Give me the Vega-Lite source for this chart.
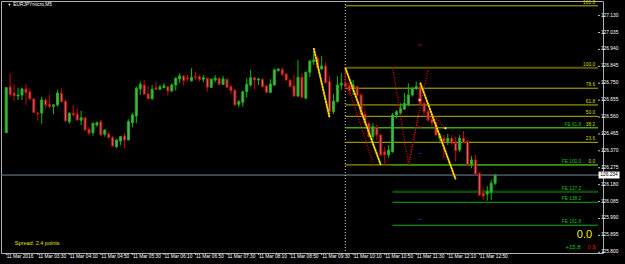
{
 "$schema": "https://vega.github.io/schema/vega-lite/v6.json",
 "width": 602, "height": 252,
 "autosize": "none",
 "padding": {"left": 1, "top": 1, "right": 22, "bottom": 11},
 "background": "#000000",
 "config": {"view": {"stroke": "#b0b0b0", "strokeWidth": 1}, "font": "Liberation Sans"},
 "datasets": {
  "candles": [
   {"i":0,"o":126.472,"h":126.725,"l":126.472,"c":126.725},
   {"i":1,"o":126.729,"h":126.806,"l":126.673,"c":126.688},
   {"i":2,"o":126.694,"h":126.744,"l":126.650,"c":126.680},
   {"i":3,"o":126.678,"h":126.725,"l":126.656,"c":126.684},
   {"i":4,"o":126.684,"h":126.725,"l":126.656,"c":126.718},
   {"i":5,"o":126.718,"h":126.744,"l":126.628,"c":126.697},
   {"i":6,"o":126.702,"h":126.722,"l":126.656,"c":126.662},
   {"i":7,"o":126.662,"h":126.666,"l":126.585,"c":126.585},
   {"i":8,"o":126.582,"h":126.590,"l":126.539,"c":126.577},
   {"i":9,"o":126.582,"h":126.674,"l":126.522,"c":126.656},
   {"i":10,"o":126.656,"h":126.666,"l":126.609,"c":126.628},
   {"i":11,"o":126.632,"h":126.684,"l":126.609,"c":126.620},
   {"i":12,"o":126.620,"h":126.632,"l":126.576,"c":126.628},
   {"i":13,"o":126.628,"h":126.712,"l":126.618,"c":126.695},
   {"i":14,"o":126.694,"h":126.722,"l":126.643,"c":126.646},
   {"i":15,"o":126.650,"h":126.656,"l":126.534,"c":126.538},
   {"i":16,"o":126.534,"h":126.585,"l":126.522,"c":126.582},
   {"i":17,"o":126.582,"h":126.628,"l":126.562,"c":126.572},
   {"i":18,"o":126.576,"h":126.609,"l":126.538,"c":126.543},
   {"i":19,"o":126.542,"h":126.594,"l":126.515,"c":126.556},
   {"i":20,"o":126.556,"h":126.562,"l":126.483,"c":126.487},
   {"i":21,"o":126.491,"h":126.505,"l":126.455,"c":126.469},
   {"i":22,"o":126.472,"h":126.528,"l":126.455,"c":126.525},
   {"i":23,"o":126.515,"h":126.534,"l":126.506,"c":126.528},
   {"i":24,"o":126.534,"h":126.543,"l":126.455,"c":126.459},
   {"i":25,"o":126.463,"h":126.491,"l":126.450,"c":126.487},
   {"i":26,"o":126.465,"h":126.478,"l":126.441,"c":126.444},
   {"i":27,"o":126.444,"h":126.455,"l":126.393,"c":126.397},
   {"i":28,"o":126.393,"h":126.437,"l":126.384,"c":126.431},
   {"i":29,"o":126.425,"h":126.454,"l":126.403,"c":126.450},
   {"i":30,"o":126.454,"h":126.469,"l":126.384,"c":126.431},
   {"i":31,"o":126.431,"h":126.547,"l":126.431,"c":126.534},
   {"i":32,"o":126.528,"h":126.582,"l":126.502,"c":126.572},
   {"i":33,"o":126.566,"h":126.731,"l":126.525,"c":126.722},
   {"i":34,"o":126.718,"h":126.759,"l":126.684,"c":126.744},
   {"i":35,"o":126.740,"h":126.768,"l":126.688,"c":126.688},
   {"i":36,"o":126.690,"h":126.735,"l":126.660,"c":126.663},
   {"i":37,"o":126.663,"h":126.740,"l":126.656,"c":126.716},
   {"i":38,"o":126.725,"h":126.759,"l":126.716,"c":126.716},
   {"i":39,"o":126.716,"h":126.740,"l":126.712,"c":126.729},
   {"i":40,"o":126.725,"h":126.750,"l":126.722,"c":126.736},
   {"i":41,"o":126.731,"h":126.735,"l":126.680,"c":126.706},
   {"i":42,"o":126.706,"h":126.750,"l":126.702,"c":126.740},
   {"i":43,"o":126.740,"h":126.783,"l":126.708,"c":126.778},
   {"i":44,"o":126.774,"h":126.806,"l":126.750,"c":126.791},
   {"i":45,"o":126.791,"h":126.796,"l":126.736,"c":126.764},
   {"i":46,"o":126.780,"h":126.796,"l":126.759,"c":126.774},
   {"i":47,"o":126.764,"h":126.834,"l":126.759,"c":126.783},
   {"i":48,"o":126.787,"h":126.815,"l":126.768,"c":126.781},
   {"i":49,"o":126.787,"h":126.796,"l":126.759,"c":126.772},
   {"i":50,"o":126.772,"h":126.796,"l":126.755,"c":126.781},
   {"i":51,"o":126.778,"h":126.783,"l":126.702,"c":126.727},
   {"i":52,"o":126.727,"h":126.778,"l":126.725,"c":126.772},
   {"i":53,"o":126.768,"h":126.796,"l":126.755,"c":126.778},
   {"i":54,"o":126.778,"h":126.781,"l":126.740,"c":126.744},
   {"i":55,"o":126.744,"h":126.791,"l":126.740,"c":126.774},
   {"i":56,"o":126.772,"h":126.778,"l":126.722,"c":126.727},
   {"i":57,"o":126.731,"h":126.740,"l":126.690,"c":126.708},
   {"i":58,"o":126.712,"h":126.712,"l":126.624,"c":126.628},
   {"i":59,"o":126.632,"h":126.656,"l":126.615,"c":126.646},
   {"i":60,"o":126.643,"h":126.708,"l":126.618,"c":126.702},
   {"i":61,"o":126.702,"h":126.778,"l":126.669,"c":126.744},
   {"i":62,"o":126.740,"h":126.825,"l":126.731,"c":126.781},
   {"i":63,"o":126.781,"h":126.783,"l":126.716,"c":126.768},
   {"i":64,"o":126.768,"h":126.781,"l":126.740,"c":126.774},
   {"i":65,"o":126.772,"h":126.778,"l":126.725,"c":126.731},
   {"i":66,"o":126.735,"h":126.740,"l":126.694,"c":126.699},
   {"i":67,"o":126.699,"h":126.772,"l":126.694,"c":126.746},
   {"i":68,"o":126.740,"h":126.834,"l":126.736,"c":126.825},
   {"i":69,"o":126.821,"h":126.834,"l":126.815,"c":126.830},
   {"i":70,"o":126.828,"h":126.840,"l":126.791,"c":126.800},
   {"i":71,"o":126.802,"h":126.806,"l":126.764,"c":126.768},
   {"i":72,"o":126.768,"h":126.774,"l":126.727,"c":126.731},
   {"i":73,"o":126.735,"h":126.796,"l":126.674,"c":126.678},
   {"i":74,"o":126.678,"h":126.881,"l":126.674,"c":126.783},
   {"i":75,"o":126.783,"h":126.806,"l":126.666,"c":126.671},
   {"i":76,"o":126.666,"h":126.815,"l":126.660,"c":126.812},
   {"i":77,"o":126.812,"h":126.881,"l":126.783,"c":126.875},
   {"i":78,"o":126.871,"h":126.945,"l":126.853,"c":126.881},
   {"i":79,"o":126.890,"h":126.903,"l":126.834,"c":126.837},
   {"i":80,"o":126.830,"h":126.903,"l":126.825,"c":126.847},
   {"i":81,"o":126.847,"h":126.866,"l":126.750,"c":126.753},
   {"i":82,"o":126.759,"h":126.791,"l":126.560,"c":126.590},
   {"i":83,"o":126.590,"h":126.690,"l":126.577,"c":126.650},
   {"i":84,"o":126.646,"h":126.791,"l":126.643,"c":126.740},
   {"i":85,"o":126.740,"h":126.806,"l":126.712,"c":126.750},
   {"i":86,"o":126.750,"h":126.843,"l":126.712,"c":126.731},
   {"i":87,"o":126.735,"h":126.750,"l":126.684,"c":126.708},
   {"i":88,"o":126.722,"h":126.768,"l":126.684,"c":126.740},
   {"i":89,"o":126.731,"h":126.735,"l":126.674,"c":126.680},
   {"i":90,"o":126.684,"h":126.694,"l":126.572,"c":126.576},
   {"i":91,"o":126.576,"h":126.600,"l":126.515,"c":126.525},
   {"i":92,"o":126.525,"h":126.534,"l":126.444,"c":126.450},
   {"i":93,"o":126.450,"h":126.525,"l":126.431,"c":126.506},
   {"i":94,"o":126.502,"h":126.515,"l":126.431,"c":126.459},
   {"i":95,"o":126.459,"h":126.463,"l":126.341,"c":126.347},
   {"i":96,"o":126.365,"h":126.393,"l":126.291,"c":126.347},
   {"i":97,"o":126.347,"h":126.403,"l":126.328,"c":126.375},
   {"i":98,"o":126.365,"h":126.582,"l":126.360,"c":126.572},
   {"i":99,"o":126.572,"h":126.600,"l":126.553,"c":126.590},
   {"i":100,"o":126.582,"h":126.637,"l":126.577,"c":126.609},
   {"i":101,"o":126.604,"h":126.694,"l":126.604,"c":126.637},
   {"i":102,"o":126.628,"h":126.750,"l":126.622,"c":126.684},
   {"i":103,"o":126.684,"h":126.727,"l":126.674,"c":126.722},
   {"i":104,"o":126.722,"h":126.759,"l":126.712,"c":126.731},
   {"i":105,"o":126.731,"h":126.754,"l":126.628,"c":126.637},
   {"i":106,"o":126.637,"h":126.646,"l":126.572,"c":126.590},
   {"i":107,"o":126.590,"h":126.600,"l":126.534,"c":126.543},
   {"i":108,"o":126.547,"h":126.562,"l":126.506,"c":126.528},
   {"i":109,"o":126.525,"h":126.534,"l":126.454,"c":126.459},
   {"i":110,"o":126.441,"h":126.469,"l":126.422,"c":126.459},
   {"i":111,"o":126.441,"h":126.459,"l":126.328,"c":126.422},
   {"i":112,"o":126.422,"h":126.465,"l":126.403,"c":126.441},
   {"i":113,"o":126.441,"h":126.459,"l":126.403,"c":126.413},
   {"i":114,"o":126.413,"h":126.450,"l":126.309,"c":126.371},
   {"i":115,"o":126.375,"h":126.459,"l":126.365,"c":126.441},
   {"i":116,"o":126.441,"h":126.482,"l":126.413,"c":126.416},
   {"i":117,"o":126.422,"h":126.431,"l":126.281,"c":126.291},
   {"i":118,"o":126.295,"h":126.341,"l":126.272,"c":126.319},
   {"i":119,"o":126.319,"h":126.347,"l":126.240,"c":126.240},
   {"i":120,"o":126.244,"h":126.247,"l":126.116,"c":126.122},
   {"i":121,"o":126.132,"h":126.160,"l":126.094,"c":126.116},
   {"i":122,"o":126.127,"h":126.172,"l":126.090,"c":126.144},
   {"i":123,"o":126.135,"h":126.206,"l":126.094,"c":126.188},
   {"i":124,"o":126.188,"h":126.234,"l":126.178,"c":126.234}
  ],
  "fib": [
   {"lv":"161.8","p":127.185},
   {"lv":"100.0","p":126.837},
   {"lv":"78.6","p":126.722},
   {"lv":"61.8","p":126.628},
   {"lv":"50.0","p":126.564},
   {"lv":"38.2","p":126.500},
   {"lv":"23.6","p":126.418},
   {"lv":"0.0","p":126.291}
  ],
  "fe": [
   {"lv":"FE 61.8","p":126.499,"i0":86},
   {"lv":"FE 100.0","p":126.291,"i0":98},
   {"lv":"FE 127.2","p":126.140,"i0":98},
   {"lv":"FE 138.2","p":126.081,"i0":98},
   {"lv":"FE 161.8","p":125.952,"i0":98}
  ],
  "zig": [
   {"s":1,"i":78,"p":126.947},{"s":1,"i":82,"p":126.559},
   {"s":2,"i":86,"p":126.837},{"s":2,"i":95,"p":126.291},
   {"s":3,"i":105,"p":126.753},{"s":3,"i":114,"p":126.210}
  ],
  "reddots": [
   {"s":1,"i":86.5,"p":126.750},{"s":1,"i":93.2,"p":126.291},
   {"s":2,"i":98,"p":126.840},{"s":2,"i":102,"p":126.296},{"s":2,"i":107.1,"p":126.840},
   {"s":3,"i":104.6,"p":126.572},{"s":3,"i":102.1,"p":126.291},
   {"s":4,"i":108.7,"p":126.562},{"s":4,"i":111.2,"p":126.500}
  ],
  "dashes": [
   {"i":104.9,"p":126.356,"k":"blue"},
   {"i":104.9,"p":125.985,"k":"blue"},
   {"i":104.9,"p":126.504,"k":"red"},
   {"i":104.9,"p":126.965,"k":"red"}
  ],
  "priceTicks": [
   {"p":127.130,"t":"127.130"},{"p":127.035,"t":"127.035"},{"p":126.940,"t":"126.940"},
   {"p":126.845,"t":"126.845"},{"p":126.750,"t":"126.750"},{"p":126.655,"t":"126.655"},
   {"p":126.560,"t":"126.560"},{"p":126.465,"t":"126.465"},{"p":126.370,"t":"126.370"},
   {"p":126.275,"t":"126.275"},{"p":126.180,"t":"126.180"},{"p":126.085,"t":"126.085"},
   {"p":125.990,"t":"125.990"},{"p":125.895,"t":"125.895"},{"p":125.800,"t":"125.800"}
  ],
  "timeTicks": [
   {"i":0,"t":"11 Mar 2016"},{"i":8,"t":"11 Mar 03:30"},{"i":16,"t":"11 Mar 04:10"},
   {"i":24,"t":"11 Mar 04:50"},{"i":32,"t":"11 Mar 05:30"},{"i":40,"t":"11 Mar 06:10"},
   {"i":48,"t":"11 Mar 06:50"},{"i":56,"t":"11 Mar 07:30"},{"i":64,"t":"11 Mar 08:10"},
   {"i":72,"t":"11 Mar 08:50"},{"i":80,"t":"11 Mar 09:30"},{"i":88,"t":"11 Mar 10:10"},
   {"i":96,"t":"11 Mar 10:50"},{"i":104,"t":"11 Mar 11:30"},{"i":112,"t":"11 Mar 12:10"},
   {"i":120,"t":"11 Mar 12:50"}
  ]
 },
 "layer": [
  {
   "data": {"values": [{"p": 126.234}]},
   "mark": {"type": "rule", "color": "#7a8898", "strokeWidth": 1},
   "encoding": {
    "y": {"field": "p", "type": "quantitative", "axis": null, "scale": {"domain": [125.796, 127.212], "nice": false, "zero": false}}
   }
  },
  {
   "data": {"values": [{"i": 86}]},
   "mark": {"type": "rule", "color": "#d8d8d8", "strokeWidth": 1, "strokeDash": [1, 2]},
   "encoding": {
    "x": {"field": "i", "type": "quantitative", "axis": null, "scale": {"domain": [-0.057, 150.1], "nice": false, "zero": false}}
   }
  },
  {
   "data": {"name": "fib"},
   "mark": {"type": "rule", "clip": true},
   "encoding": {
    "x": {"datum": 86, "type": "quantitative", "axis": null},
    "x2": {"datum": 150.1},
    "y": {"field": "p", "type": "quantitative", "axis": null},
    "color": {"condition": {"test": "datum.lv == '100.0'", "value": "#5c5c00"}, "value": "#b8b800"},
    "strokeWidth": {"condition": {"test": "datum.lv == '100.0'", "value": 2}, "value": 1}
   }
  },
  {
   "data": {"name": "fe"},
   "mark": {"type": "rule", "clip": true},
   "encoding": {
    "x": {"field": "i0", "type": "quantitative", "axis": null},
    "x2": {"datum": 150.1},
    "y": {"field": "p", "type": "quantitative", "axis": null},
    "color": {"condition": {"test": "datum.lv == 'FE 127.2'", "value": "#0a4a0a"}, "value": "#10b010"},
    "strokeWidth": {"condition": {"test": "datum.lv == 'FE 127.2'", "value": 2.5}, "value": 1}
   }
  },
  {
   "data": {"name": "candles"},
   "mark": {"type": "rule", "strokeWidth": 1},
   "encoding": {
    "x": {"field": "i", "type": "quantitative", "axis": null},
    "y": {"field": "l", "type": "quantitative", "axis": null},
    "y2": {"field": "h"},
    "color": {"condition": {"test": "datum.c >= datum.o", "value": "#00c000"}, "value": "#d00000"}
   }
  },
  {
   "data": {"name": "candles"},
   "mark": {"type": "bar", "size": 2, "strokeWidth": 1, "fill": "#8c8c8c"},
   "encoding": {
    "x": {"field": "i", "type": "quantitative", "axis": null},
    "y": {"field": "o", "type": "quantitative", "axis": null},
    "y2": {"field": "c"},
    "stroke": {"condition": {"test": "datum.c >= datum.o", "value": "#00c000"}, "value": "#d00000"}
   }
  },
  {
   "data": {"name": "reddots"},
   "mark": {"type": "line", "color": "#e00000", "strokeWidth": 1.3, "strokeDash": [1, 1.5], "clip": true},
   "encoding": {
    "x": {"field": "i", "type": "quantitative", "axis": null},
    "y": {"field": "p", "type": "quantitative", "axis": null},
    "detail": {"field": "s"}
   }
  },
  {
   "data": {"name": "zig"},
   "mark": {"type": "line", "color": "#c89000", "strokeWidth": 2},
   "encoding": {
    "x": {"field": "i", "type": "quantitative", "axis": null},
    "y": {"field": "p", "type": "quantitative", "axis": null},
    "detail": {"field": "s"}
   }
  },
  {
   "data": {"name": "zig"},
   "mark": {"type": "line", "color": "#ffff00", "strokeWidth": 1.2, "strokeDash": [2, 1]},
   "encoding": {
    "x": {"field": "i", "type": "quantitative", "axis": null},
    "y": {"field": "p", "type": "quantitative", "axis": null},
    "detail": {"field": "s"}
   }
  },
  {
   "data": {"name": "dashes"},
   "mark": {"type": "point", "shape": "M-1,0H1", "size": 16, "filled": false, "strokeWidth": 1, "opacity": 1},
   "encoding": {
    "x": {"field": "i", "type": "quantitative", "axis": null},
    "y": {"field": "p", "type": "quantitative", "axis": null},
    "stroke": {"condition": {"test": "datum.k == 'blue'", "value": "#1020a0"}, "value": "#c00000"}
   }
  },
  {
   "data": {"values": [{"p": 126.656}]},
   "mark": {"type": "point", "shape": "circle", "size": 12, "filled": true, "fill": "#f0d0d0", "stroke": "#c00000", "strokeWidth": 0.8, "opacity": 1},
   "encoding": {
    "x": {"datum": 104.9, "type": "quantitative", "axis": null},
    "y": {"field": "p", "type": "quantitative", "axis": null}
   }
  },
  {
   "data": {"values": [{"p": 126.497}]},
   "mark": {"type": "point", "shape": "triangle-left", "size": 10, "filled": true, "fill": "#ffe0c0", "opacity": 1},
   "encoding": {
    "x": {"datum": 111.3, "type": "quantitative", "axis": null},
    "y": {"field": "p", "type": "quantitative", "axis": null}
   }
  },
  {
   "data": {"name": "fib"},
   "mark": {"type": "text", "align": "right", "baseline": "bottom", "dy": -1, "fontSize": 4.8, "color": "#d8d800"},
   "encoding": {
    "x": {"datum": 149.36, "type": "quantitative", "axis": null},
    "y": {"field": "p", "type": "quantitative", "axis": null},
    "text": {"field": "lv"}
   }
  },
  {
   "data": {"name": "fe"},
   "mark": {"type": "text", "align": "right", "baseline": "bottom", "dy": -1, "fontSize": 4.8, "color": "#10c010"},
   "encoding": {
    "x": {"datum": 145.86, "type": "quantitative", "axis": null},
    "y": {"field": "p", "type": "quantitative", "axis": null},
    "text": {"field": "lv"}
   }
  },
  {
   "data": {"name": "priceTicks"},
   "mark": {"type": "point", "shape": "M0,0H1", "size": 16, "filled": false, "stroke": "#c0c0c0", "strokeWidth": 1, "opacity": 1},
   "encoding": {
    "x": {"datum": 150.1, "type": "quantitative", "axis": null},
    "y": {"field": "p", "type": "quantitative", "axis": null}
   }
  },
  {
   "data": {"name": "priceTicks"},
   "mark": {"type": "text", "align": "left", "baseline": "middle", "fontSize": 4.8, "color": "#ffffff"},
   "encoding": {
    "x": {"datum": 150.85, "type": "quantitative", "axis": null},
    "y": {"field": "p", "type": "quantitative", "axis": null},
    "text": {"field": "t"}
   }
  },
  {
   "data": {"name": "timeTicks"},
   "mark": {"type": "point", "shape": "M0,0V1", "size": 16, "filled": false, "stroke": "#c0c0c0", "strokeWidth": 1, "opacity": 1},
   "encoding": {
    "x": {"field": "i", "type": "quantitative", "axis": null},
    "y": {"datum": 125.796, "type": "quantitative", "axis": null}
   }
  },
  {
   "data": {"name": "timeTicks"},
   "mark": {"type": "text", "align": "left", "baseline": "middle", "dx": 0.5, "fontSize": 4.8, "color": "#ffffff"},
   "encoding": {
    "x": {"field": "i", "type": "quantitative", "axis": null},
    "y": {"datum": 125.775, "type": "quantitative", "axis": null},
    "text": {"field": "t"}
   }
  },
  {
   "data": {"values": [{"p": 126.234}]},
   "mark": {"type": "point", "shape": "M-1,-0.33H1V0.33H-1Z", "size": 441, "filled": true, "fill": "#ffffff", "opacity": 1, "strokeWidth": 0},
   "encoding": {
    "x": {"datum": 152.9, "type": "quantitative", "axis": null},
    "y": {"field": "p", "type": "quantitative", "axis": null}
   }
  },
  {
   "data": {"values": [{"p": 126.234, "t": "126.234"}]},
   "mark": {"type": "text", "align": "center", "baseline": "middle", "fontSize": 4.8, "color": "#000000"},
   "encoding": {
    "x": {"datum": 152.9, "type": "quantitative", "axis": null},
    "y": {"field": "p", "type": "quantitative", "axis": null},
    "text": {"field": "t"}
   }
  },
  {
   "data": {"values": [{"t": "EURJPYmicro,M5"}]},
   "mark": {"type": "text", "align": "left", "baseline": "middle", "fontSize": 4.8, "color": "#ffffff"},
   "encoding": {
    "x": {"datum": 1.81, "type": "quantitative", "axis": null},
    "y": {"datum": 127.190, "type": "quantitative", "axis": null},
    "text": {"field": "t"}
   }
  },
  {
   "data": {"values": [{"t": "title"}]},
   "mark": {"type": "point", "shape": "triangle-down", "size": 6, "filled": true, "fill": "#ffffff", "opacity": 1},
   "encoding": {
    "x": {"datum": 0.82, "type": "quantitative", "axis": null},
    "y": {"datum": 127.190, "type": "quantitative", "axis": null}
   }
  },
  {
   "data": {"values": [{"t": "Spread: 2.4 points"}]},
   "mark": {"type": "text", "align": "left", "baseline": "middle", "fontSize": 5.5, "color": "#e0e000"},
   "encoding": {
    "x": {"datum": 2.19, "type": "quantitative", "axis": null},
    "y": {"datum": 125.850, "type": "quantitative", "axis": null},
    "text": {"field": "t"}
   }
  },
  {
   "data": {"values": [{"t": "0.0"}]},
   "mark": {"type": "text", "align": "right", "baseline": "middle", "fontSize": 11, "color": "#f0f000"},
   "encoding": {
    "x": {"datum": 148.6, "type": "quantitative", "axis": null},
    "y": {"datum": 125.897, "type": "quantitative", "axis": null},
    "text": {"field": "t"}
   }
  },
  {
   "data": {"values": [{"t": "+15.8"}]},
   "mark": {"type": "text", "align": "left", "baseline": "middle", "fontSize": 6, "color": "#00d000"},
   "encoding": {
    "x": {"datum": 141.85, "type": "quantitative", "axis": null},
    "y": {"datum": 125.831, "type": "quantitative", "axis": null},
    "text": {"field": "t"}
   }
  },
  {
   "data": {"values": [{"t": "0 $"}]},
   "mark": {"type": "text", "align": "left", "baseline": "middle", "fontSize": 6, "color": "#e00000"},
   "encoding": {
    "x": {"datum": 147.35, "type": "quantitative", "axis": null},
    "y": {"datum": 125.831, "type": "quantitative", "axis": null},
    "text": {"field": "t"}
   }
  }
 ]
}
